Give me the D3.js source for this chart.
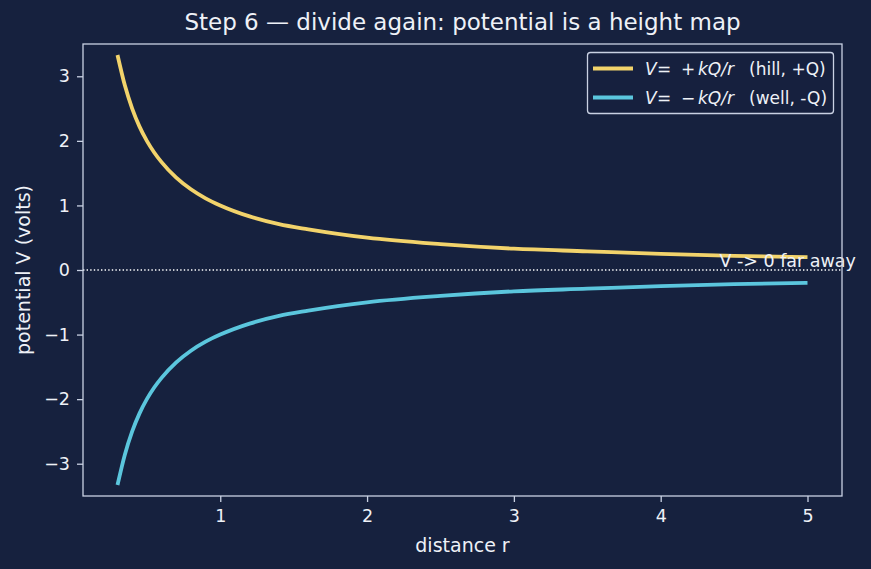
<!DOCTYPE html>
<html>
<head>
<meta charset="utf-8">
<script src="https://cdn.jsdelivr.net/npm/d3@7"></script>
<style>
  body { margin: 0; background: #16213e; }
  svg { display: block; font-family: "DejaVu Sans", sans-serif; }
  .axis path, .axis line { stroke: #c9d1e3; stroke-width: 1.3; }
  .axis text { fill: #eef1f7; font-size: 17.5px; font-family: "DejaVu Sans", sans-serif; }
  .axislabel { fill: #eef1f7; font-size: 19px; }
  .graphtitle { fill: #eef1f7; font-size: 23px; }
  .legend { fill: #eef1f7; font-size: 17px; }
</style>
</head>
<body>
<svg id="chart" width="871" height="569"></svg>
<script>
// values
const distance = [0.3, 0.35, 0.4, 0.45, 0.5, 0.55, 0.6, 0.7, 0.8, 0.9, 1.0, 1.2, 1.4, 1.6, 1.8, 2.0, 2.5, 3.0, 3.5, 4.0, 4.5, 5.0];
const hill = [3.33, 2.86, 2.50, 2.22, 2.00, 1.82, 1.67, 1.43, 1.25, 1.11, 1.00, 0.83, 0.71, 0.63, 0.56, 0.50, 0.40, 0.33, 0.29, 0.25, 0.22, 0.20];
const well = [-3.33, -2.86, -2.50, -2.22, -2.00, -1.82, -1.67, -1.43, -1.25, -1.11, -1.00, -0.83, -0.71, -0.63, -0.56, -0.50, -0.40, -0.33, -0.29, -0.25, -0.22, -0.20];
const xTicks = [1, 2, 3, 4, 5];
const yTicks = [-3, -2, -1, 0, 1, 2, 3];

const svg = d3.select("#chart");
svg.append("rect").attr("width", 871).attr("height", 569).attr("fill", "#16213e");

const pLeft = 83, pRight = 842, pTop = 44, pBottom = 496;
const xScale = d3.scaleLinear().domain([0.065, 5.235]).range([pLeft, pRight]);
const yScale = d3.scaleLinear().domain([-3.5, 3.5]).range([pBottom, pTop]);

svg.append("text").attr("class", "graphtitle").attr("x", (pLeft + pRight) / 2).attr("y", 30)
    .attr("text-anchor", "middle").text("Step 6 \u2014 divide again: potential is a height map");

// zero line
svg.append("line").attr("x1", pLeft).attr("x2", pRight)
    .attr("y1", yScale(0)).attr("y2", yScale(0))
    .attr("stroke", "#ffffff").attr("stroke-width", 1.4).attr("stroke-dasharray", "1.4,2.2");

const line = d3.line().x((d, i) => xScale(distance[i])).y(d => yScale(d)).curve(d3.curveMonotoneX);
svg.append("path").attr("d", line(hill)).attr("fill", "none")
    .attr("stroke", "#f2d36b").attr("stroke-width", 3.8);
svg.append("path").attr("d", line(well)).attr("fill", "none")
    .attr("stroke", "#5bc6dd").attr("stroke-width", 3.8);

svg.append("text").attr("x", xScale(4.4)).attr("y", yScale(0.04))
    .attr("fill", "#eef1f7").style("font-size", "17.5px").text("V -> 0 far away");

// axes
const xAxis = d3.axisBottom(xScale).tickValues(xTicks).tickSize(6).tickPadding(8).tickFormat(d => d);
const x = svg.append("g").attr("class", "axis").attr("transform", `translate(0,${pBottom})`).call(xAxis);
x.select(".domain").remove();
const yAxis = d3.axisLeft(yScale).tickValues(yTicks).tickSize(6).tickPadding(7)
    .tickFormat(d => d < 0 ? "\u2212" + Math.abs(d) : d);
const y = svg.append("g").attr("class", "axis").attr("transform", `translate(${pLeft},0)`).call(yAxis);
y.select(".domain").remove();

svg.append("rect").attr("x", pLeft).attr("y", pTop).attr("width", pRight - pLeft).attr("height", pBottom - pTop)
    .attr("fill", "none").attr("stroke", "#c9d1e3").attr("stroke-width", 1.3);

svg.append("text").attr("class", "axislabel").attr("x", (pLeft + pRight) / 2).attr("y", 552)
    .attr("text-anchor", "middle").text("distance r");
svg.append("text").attr("class", "axislabel")
    .attr("transform", `translate(30,${(pTop + pBottom) / 2}) rotate(-90)`)
    .attr("text-anchor", "middle").text("potential V (volts)");

// legend
const lg = svg.append("g");
lg.append("rect").attr("x", 587.5).attr("y", 52.5).attr("width", 246).attr("height", 61).attr("rx", 3)
    .attr("fill", "#16213e").attr("fill-opacity", 0.8).attr("stroke", "#c9d1e3").attr("stroke-width", 1.3);
const entries = [
  {sign: "+", note: "(hill, +Q)", color: "#f2d36b", yy: 68.5},
  {sign: "\u2212", note: "(well, -Q)", color: "#5bc6dd", yy: 97.5}
];
entries.forEach(e => {
  lg.append("line").attr("x1", 593).attr("x2", 633).attr("y1", e.yy).attr("y2", e.yy)
      .attr("stroke", e.color).attr("stroke-width", 3.8);
  const t = lg.append("text").attr("class", "legend").attr("y", e.yy + 6);
  t.append("tspan").attr("x", 645).style("font-style", "italic").text("V");
  t.append("tspan").attr("x", 657).text("=");
  t.append("tspan").attr("x", 681).text(e.sign);
  t.append("tspan").attr("x", 698).style("font-style", "italic").text("kQ");
  t.append("tspan").style("font-style", "italic").text("/");
  t.append("tspan").style("font-style", "italic").text("r");
  t.append("tspan").attr("x", 749).text(e.note);
});
</script>
</body>
</html>
